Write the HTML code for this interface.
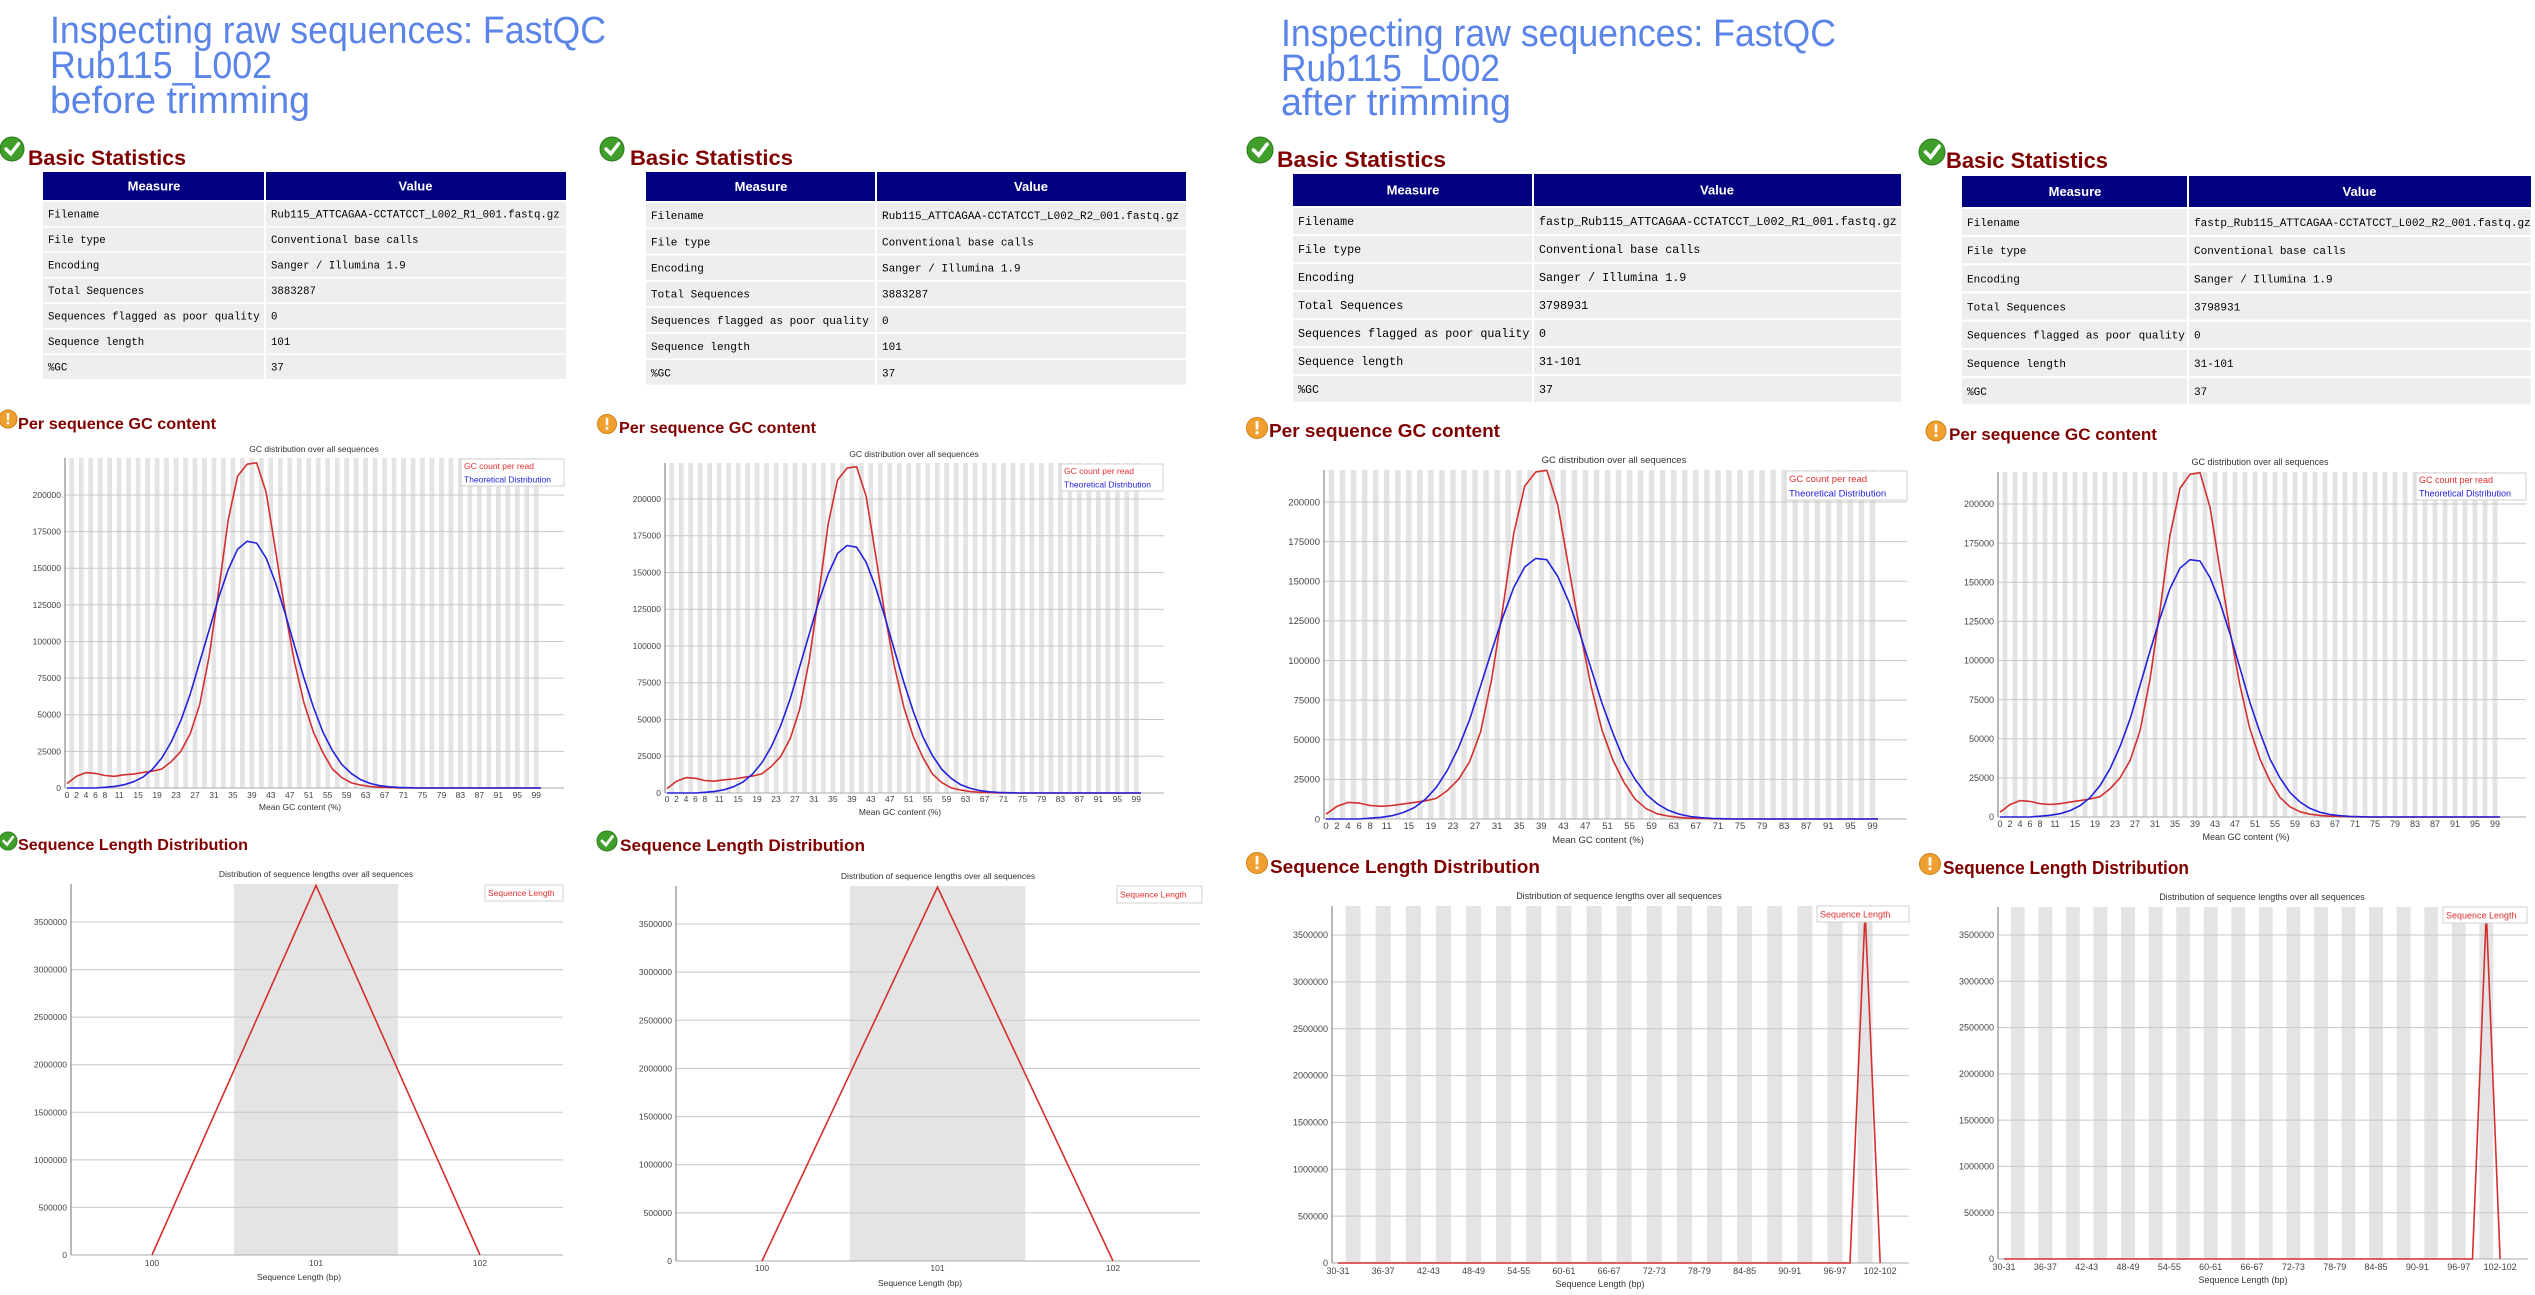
<!DOCTYPE html>
<html>
<head>
<meta charset="utf-8">
<style>
html,body{margin:0;padding:0;background:#fff;}
svg{display:block;}
</style>
</head>
<body>
<svg id="root" xmlns="http://www.w3.org/2000/svg" width="2535" height="1295" viewBox="0 0 2535 1295">
<rect x="0" y="0" width="2535" height="1295" fill="#ffffff"/>
</svg>
<script>
// ===== Chart data =====
const gcX = [0,2,4,6,8,10,12,14,16,18,20,22,24,26,28,30,32,34,36,38,40,42,44,46,48,50,52,54,56,58,60,62,64,66,68,70,72,74,76,78,80,82,84,86,88,90,92,94,96,98,100];
const gcReadBefore = [3,8,10.5,10,8.5,8,9,9.5,10.5,11.5,13,18,25,37,57,90,135,183,213,221,222,202,162,121,86,58,38,24,13,7,3.5,2,1,0.5,0.3,0.1,0,0,0,0,0,0,0,0,0,0,0,0,0,0,0];
const gcTheoryBefore = [0,0,0,0,0.5,1.1,2.2,4.2,7.4,12.7,20.5,31.5,46,64,86,108,130,149,163,168.4,167.2,157,140,119.5,97,75,55,38,25.5,16,9.8,5.6,3.1,1.6,0.8,0.4,0.2,0,0,0,0,0,0,0,0,0,0,0,0,0,0];
const gcReadAfter = [3,8,10.5,10,8.5,8,8.5,9.5,10.5,11.5,13,18,25,36,55,88,132,180,210,219,220,198,158,119,84,56,37,23,12.5,6.5,3.3,1.8,1,0.5,0.3,0.1,0,0,0,0,0,0,0,0,0,0,0,0,0,0,0];
const gcTheoryAfter = [0,0,0,0,0.5,1.1,2.1,4.1,7.2,12.4,20,30.8,45,62.5,84,106,127,146,159,164.4,163.6,153,137,117,95,73,54,37,25,15.6,9.6,5.5,3,1.6,0.8,0.4,0.2,0,0,0,0,0,0,0,0,0,0,0,0,0,0];
const gcTickVals = [0,25000,50000,75000,100000,125000,150000,175000,200000];
const gcTickLabels = ['0','25000','50000','75000','100000','125000','150000','175000','200000'];
const gcXLabels = [0,2,4,6,8,11,15,19,23,27,31,35,39,43,47,51,55,59,63,67,71,75,79,83,87,91,95,99];

const lenCatsBefore = ['100','101','102'];
const lenValsBefore = [0,3883287,0];
const lenCatsAfter = ['30-31','32-33','34-35','36-37','38-39','40-41','42-43','44-45','46-47','48-49','50-51','52-53','54-55','56-57','58-59','60-61','62-63','64-65','66-67','68-69','70-71','72-73','74-75','76-77','78-79','80-81','82-83','84-85','86-87','88-89','90-91','92-93','94-95','96-97','98-99','100-101','102-102'];
const lenValsAfterR1 = [0,0,0,0,0,0,0,0,0,0,0,0,0,0,0,0,0,0,0,0,0,0,0,0,0,0,0,0,0,0,0,0,0,0,0,3750000,0];
const lenValsAfterR2 = [0,0,0,0,0,0,0,0,0,0,0,0,0,0,0,0,0,0,0,0,0,0,0,0,0,0,0,0,0,0,0,0,0,0,0,3750000,0];
const lenTickVals = [0,500000,1000000,1500000,2000000,2500000,3000000,3500000];
const lenTickLabels = ['0','500000','1000000','1500000','2000000','2500000','3000000','3500000'];

// ===== helpers =====
const NS = 'http://www.w3.org/2000/svg';
const root = document.getElementById('root');
const SANS = '"Liberation Sans", Arial, sans-serif';
const MONO = '"Liberation Mono", "DejaVu Sans Mono", monospace';
function mk(tag, attrs, parent) {
  const e = document.createElementNS(NS, tag);
  for (const k in attrs) e.setAttribute(k, attrs[k]);
  (parent || root).appendChild(e);
  return e;
}
function tx(str, attrs, parent) {
  const e = mk('text', attrs, parent);
  e.textContent = str;
  return e;
}

// ===== page titles =====
function pageTitle(x, ys, lines, widths, nm) {
  const g = mk('g', {});
  
  
  for (let i = 0; i < lines.length; i++) {
    const t = tx(lines[i], {x: x, y: ys[i], 'font-family': SANS, 'font-size': 38, fill: '#5b84e8', textLength: widths[i], lengthAdjust: 'spacingAndGlyphs'}, g);
    
    
  }
}
pageTitle(50, [43, 78, 113], ['Inspecting raw sequences: FastQC', 'Rub115_L002', 'before trimming'], [556, 222, 260], 'title-before');
pageTitle(1281, [46, 81, 115], ['Inspecting raw sequences: FastQC', 'Rub115_L002', 'after trimming'], [555, 219, 230], 'title-after');

// ===== icons & headings =====
function icon(type, cx, cy, r, parent) {
  const g = mk('g', {}, parent);
  
  
  if (type === 'ok') {
    const c = mk('circle', {cx: cx, cy: cy, r: r, fill: '#3f9f2a', stroke: '#2c7a1c', 'stroke-width': 1}, g);
    
    
    const p = mk('path', {d: `M${cx - r*0.5} ${cy} L${cx - r*0.1} ${cy + r*0.4} L${cx + r*0.55} ${cy - r*0.45}`, stroke: '#fff', 'stroke-width': r*0.28, fill: 'none', 'stroke-linecap': 'round'}, g);
    
    
  } else {
    const c = mk('circle', {cx: cx, cy: cy, r: r, fill: '#f0a030', stroke: '#d08010', 'stroke-width': 1}, g);
    
    
    const b = mk('rect', {x: cx - r*0.13, y: cy - r*0.65, width: r*0.26, height: r*0.8, fill: '#fff'}, g);
    
    
    const d = mk('circle', {cx: cx, cy: cy + r*0.45, r: r*0.15, fill: '#fff'}, g);
    
    
  }
}
function heading(type, icx, icy, ir, tx0, tx1, base, fs, text, nm) {
  const g = mk('g', {});
  
  
  icon(type, icx, icy, ir, g);
  const t = tx(text, {x: tx0, y: base, 'font-family': SANS, 'font-weight': 'bold', 'font-size': fs, fill: '#800000', textLength: tx1 - tx0, lengthAdjust: 'spacingAndGlyphs'}, g);
  
  
}
heading('ok', 12, 149, 12, 28, 186, 165, 21, 'Basic Statistics', 'basic-stats-heading-1');
heading('ok', 612, 149, 12, 630, 793, 165, 21, 'Basic Statistics', 'basic-stats-heading-2');
heading('ok', 1260, 150, 13, 1277, 1446, 167, 22, 'Basic Statistics', 'basic-stats-heading-3');
heading('ok', 1932, 152, 13, 1946, 2108, 168, 22, 'Basic Statistics', 'basic-stats-heading-4');
heading('warn', 8, 419, 9, 18, 216, 429, 16, 'Per sequence GC content', 'gc-heading-1');
heading('warn', 607, 424, 9.5, 619, 816, 433, 16, 'Per sequence GC content', 'gc-heading-2');
heading('warn', 1257, 428, 10.5, 1269, 1500, 437, 18, 'Per sequence GC content', 'gc-heading-3');
heading('warn', 1936, 431, 10, 1949, 2157, 440, 17, 'Per sequence GC content', 'gc-heading-4');
heading('ok', 8, 841, 9, 18, 248, 850, 16, 'Sequence Length Distribution', 'length-heading-1');
heading('ok', 607, 841, 10, 620, 865, 851, 17, 'Sequence Length Distribution', 'length-heading-2');
heading('warn', 1257, 863, 10.5, 1270, 1540, 873, 18, 'Sequence Length Distribution', 'length-heading-3');
heading('warn', 1930, 864, 10.5, 1943, 2189, 874, 18, 'Sequence Length Distribution', 'length-heading-4');

// ===== tables =====
const rowLabels = ['Filename','File type','Encoding','Total Sequences','Sequences flagged as poor quality','Sequence length','%GC'];
const rowVals1 = ['Rub115_ATTCAGAA-CCTATCCT_L002_R1_001.fastq.gz','Conventional base calls','Sanger / Illumina 1.9','3883287','0','101','37'];
const rowVals2 = ['Rub115_ATTCAGAA-CCTATCCT_L002_R2_001.fastq.gz','Conventional base calls','Sanger / Illumina 1.9','3883287','0','101','37'];
const rowVals3 = ['fastp_Rub115_ATTCAGAA-CCTATCCT_L002_R1_001.fastq.gz','Conventional base calls','Sanger / Illumina 1.9','3798931','0','31-101','37'];
const rowVals4 = ['fastp_Rub115_ATTCAGAA-CCTATCCT_L002_R2_001.fastq.gz','Conventional base calls','Sanger / Illumina 1.9','3798931','0','31-101','37'];

function table(c, vals, nm) {
  const g = mk('g', {});
  
  
  const h1 = mk('rect', {x: c.L, y: c.hT, width: c.split - c.L - 1, height: c.hB - c.hT, fill: '#000080'}, g);
  
  
  const h2 = mk('rect', {x: c.split + 1, y: c.hT, width: c.R - c.split - 1, height: c.hB - c.hT, fill: '#000080'}, g);
  
  
  const hy = (c.hT + c.hB) / 2 + 4.5;
  const t1 = tx('Measure', {x: (c.L + c.split) / 2, y: hy, 'text-anchor': 'middle', 'font-family': SANS, 'font-weight': 'bold', 'font-size': 13, fill: '#fff'}, g);
  
  
  const t2 = tx('Value', {x: (c.split + c.R) / 2, y: hy, 'text-anchor': 'middle', 'font-family': SANS, 'font-weight': 'bold', 'font-size': 13, fill: '#fff'}, g);
  
  
  for (let i = 0; i < rowLabels.length; i++) {
    const top = c.rT + i * c.pitch;
    const r1 = mk('rect', {x: c.L, y: top, width: c.split - c.L - 1, height: c.rH, fill: '#eeeeee'}, g);
    
    
    const r2 = mk('rect', {x: c.split + 1, y: top, width: c.R - c.split - 1, height: c.rH, fill: '#eeeeee'}, g);
    
    
    const by = top + c.rH / 2 + c.fs * 0.35;
    const a = tx(rowLabels[i], {x: c.L + 5, y: by, 'font-family': MONO, 'font-size': c.fs, fill: '#000'}, g);
    
    
    const b = tx(vals[i], {x: c.split + 6, y: by, 'font-family': MONO, 'font-size': c.fs, fill: '#000'}, g);
    
    
  }
}
table({L: 43, split: 265, R: 566, hT: 172, hB: 200, rT: 202, pitch: 25.5, rH: 24, fs: 10.7}, rowVals1, 'basic-stats-table-1');
table({L: 646, split: 876, R: 1186, hT: 172, hB: 201, rT: 203, pitch: 26.2, rH: 24.5, fs: 11}, rowVals2, 'basic-stats-table-2');
table({L: 1293, split: 1533, R: 1901, hT: 174, hB: 206, rT: 208, pitch: 28, rH: 26, fs: 11.7}, rowVals3, 'basic-stats-table-3');
table({L: 1962, split: 2188, R: 2531, hT: 176, hB: 207, rT: 209, pitch: 28.2, rH: 26, fs: 11}, rowVals4, 'basic-stats-table-4');

// ===== chart frame helpers =====
function legend(g, c, items) {
  const lb = mk('rect', {x: c.leg.x, y: c.leg.y, width: c.leg.w, height: c.leg.h, fill: '#fff', stroke: '#d0d0d0', 'stroke-width': 1}, g);
  
  
  const n = items.length;
  for (let i = 0; i < n; i++) {
    const y = c.leg.y + c.leg.h * (i + 0.5) / n + c.fs * 0.38;
    const t = tx(items[i][0], {x: c.leg.x + 3, y: y, 'font-family': SANS, 'font-size': c.fs, fill: items[i][1]}, g);
    
    
  }
}
function axesAndGrid(g, c, ticks, labels, yFn) {
  for (let i = 0; i < ticks.length; i++) {
    const y = yFn(ticks[i]);
    if (i > 0) {
      const gl = mk('line', {x1: c.L, x2: c.R, y1: y, y2: y, stroke: '#c8c8c8', 'stroke-width': 1}, g);
      
      
    }
    const t = tx(labels[i], {x: c.L - 4, y: y + c.fs * 0.35, 'text-anchor': 'end', 'font-family': SANS, 'font-size': c.fs, fill: '#444'}, g);
    
    
  }
  const ya = mk('line', {x1: c.L, x2: c.L, y1: c.T, y2: c.B, stroke: '#888', 'stroke-width': 1.2}, g);
  
  
  const xa = mk('line', {x1: c.L, x2: c.R, y1: c.B, y2: c.B, stroke: '#aaa', 'stroke-width': 1}, g);
  
  
}
function titles(g, c, title, axis) {
  const t = tx(title, {x: c.titleX, y: c.titleY + 3, 'text-anchor': 'middle', 'font-family': SANS, 'font-size': c.fs, fill: '#333'}, g);
  
  
  const a = tx(axis, {x: c.axX, y: c.axT + 3, 'text-anchor': 'middle', 'font-family': SANS, 'font-size': c.fs, fill: '#333'}, g);
  
  
}

// ===== GC chart =====
function gcChart(c, red, blue, nm) {
  const g = mk('g', {});
  
  
  const xFn = v => c.x0 + v * c.dx;
  const yFn = v => c.B - v * (c.B - c.y200) / 200000;
  for (let i = 1; i <= 100; i += 2) {
    const s = mk('rect', {x: xFn(i - 0.5), y: c.T, width: c.dx, height: c.B - c.T, fill: '#e4e4e4'}, g);
    
    
  }
  axesAndGrid(g, c, gcTickVals, gcTickLabels, yFn);
  for (const v of gcXLabels) {
    const t = tx(String(v), {x: xFn(v), y: c.lab, 'text-anchor': 'middle', 'font-family': SANS, 'font-size': c.fs, fill: '#444'}, g);
    
    
  }
  const ptsR = gcX.map((v, i) => xFn(v).toFixed(1) + ',' + yFn(red[i] * 1000).toFixed(1)).join(' ');
  const lr = mk('polyline', {points: ptsR, fill: 'none', stroke: '#d42f2f', 'stroke-width': 1.6, 'stroke-linejoin': 'round'}, g);
  
  
  const ptsB = gcX.map((v, i) => xFn(v).toFixed(1) + ',' + yFn(blue[i] * 1000).toFixed(1)).join(' ');
  const lbn = mk('polyline', {points: ptsB, fill: 'none', stroke: '#2222dd', 'stroke-width': 1.6, 'stroke-linejoin': 'round'}, g);
  
  
  legend(g, c, [['GC count per read', '#e03030'], ['Theoretical Distribution', '#2222dd']]);
  titles(g, c, 'GC distribution over all sequences', 'Mean GC content (%)');
}
gcChart({L: 65, R: 564, T: 458, B: 788, y200: 495, x0: 67, dx: 4.74, titleX: 314, titleY: 449, lab: 798, axT: 807, axX: 300, fs: 8.5, leg: {x: 461, y: 459, w: 103, h: 27}}, gcReadBefore, gcTheoryBefore, 'gc-chart-1');
gcChart({L: 665, R: 1164, T: 463, B: 793, y200: 499, x0: 667, dx: 4.74, titleX: 914, titleY: 454, lab: 802, axT: 812, axX: 900, fs: 8.5, leg: {x: 1061, y: 464, w: 102, h: 27}}, gcReadBefore, gcTheoryBefore, 'gc-chart-2');
gcChart({L: 1324, R: 1907, T: 470, B: 819, y200: 502, x0: 1326, dx: 5.52, titleX: 1614, titleY: 460, lab: 829, axT: 840, axX: 1598, fs: 9.5, leg: {x: 1786, y: 471, w: 121, h: 29}}, gcReadAfter, gcTheoryAfter, 'gc-chart-3');
gcChart({L: 1998, R: 2526, T: 472, B: 817, y200: 504, x0: 2000, dx: 5.0, titleX: 2260, titleY: 462, lab: 827, axT: 837, axX: 2246, fs: 9, leg: {x: 2416, y: 473, w: 110, h: 27}}, gcReadAfter, gcTheoryAfter, 'gc-chart-4');

// ===== Sequence length chart =====
function lenChart(c, cats, vals, nm) {
  const g = mk('g', {});
  
  
  const xFn = i => c.x0 + i * c.dx;
  const yFn = v => c.B - v * (c.B - c.y35) / 3500000;
  for (let i = 1; i < cats.length; i += 2) {
    const s = mk('rect', {x: xFn(i - 0.5), y: c.T, width: c.dx, height: c.B - c.T, fill: '#e4e4e4'}, g);
    
    
  }
  axesAndGrid(g, c, lenTickVals, lenTickLabels, yFn);
  for (let i = 0; i < cats.length; i += c.every) {
    const t = tx(cats[i], {x: xFn(i), y: c.lab, 'text-anchor': 'middle', 'font-family': SANS, 'font-size': c.fs, fill: '#444'}, g);
    
    
  }
  const pts = vals.map((v, i) => xFn(i).toFixed(1) + ',' + yFn(v).toFixed(1)).join(' ');
  const l = mk('polyline', {points: pts, fill: 'none', stroke: '#d42f2f', 'stroke-width': 1.6, 'stroke-linejoin': 'miter'}, g);
  
  
  legend(g, c, [['Sequence Length', '#e03030']]);
  titles(g, c, 'Distribution of sequence lengths over all sequences', 'Sequence Length (bp)');
}
lenChart({L: 71, R: 563, T: 884, B: 1255, y35: 922, x0: 152, dx: 164, every: 1, titleX: 316, titleY: 874, lab: 1266, axT: 1277, axX: 299, fs: 8.5, leg: {x: 485, y: 885, w: 78, h: 16}}, lenCatsBefore, lenValsBefore, 'length-chart-1');
lenChart({L: 676, R: 1200, T: 886, B: 1261, y35: 924, x0: 762, dx: 175.5, every: 1, titleX: 938, titleY: 876, lab: 1271, axT: 1283, axX: 920, fs: 8.5, leg: {x: 1117, y: 886, w: 85, h: 17}}, lenCatsBefore, lenValsBefore, 'length-chart-2');
lenChart({L: 1332, R: 1909, T: 906, B: 1263, y35: 935, x0: 1338, dx: 15.06, every: 3, titleX: 1619, titleY: 896, lab: 1274, axT: 1284, axX: 1600, fs: 9, leg: {x: 1817, y: 906, w: 92, h: 16}}, lenCatsAfter, lenValsAfterR1, 'length-chart-3');
lenChart({L: 1998, R: 2528, T: 907, B: 1259, y35: 935, x0: 2004, dx: 13.78, every: 3, titleX: 2262, titleY: 897, lab: 1270, axT: 1280, axX: 2243, fs: 9, leg: {x: 2443, y: 907, w: 84, h: 16}}, lenCatsAfter, lenValsAfterR2, 'length-chart-4');
</script>
</body>
</html>
